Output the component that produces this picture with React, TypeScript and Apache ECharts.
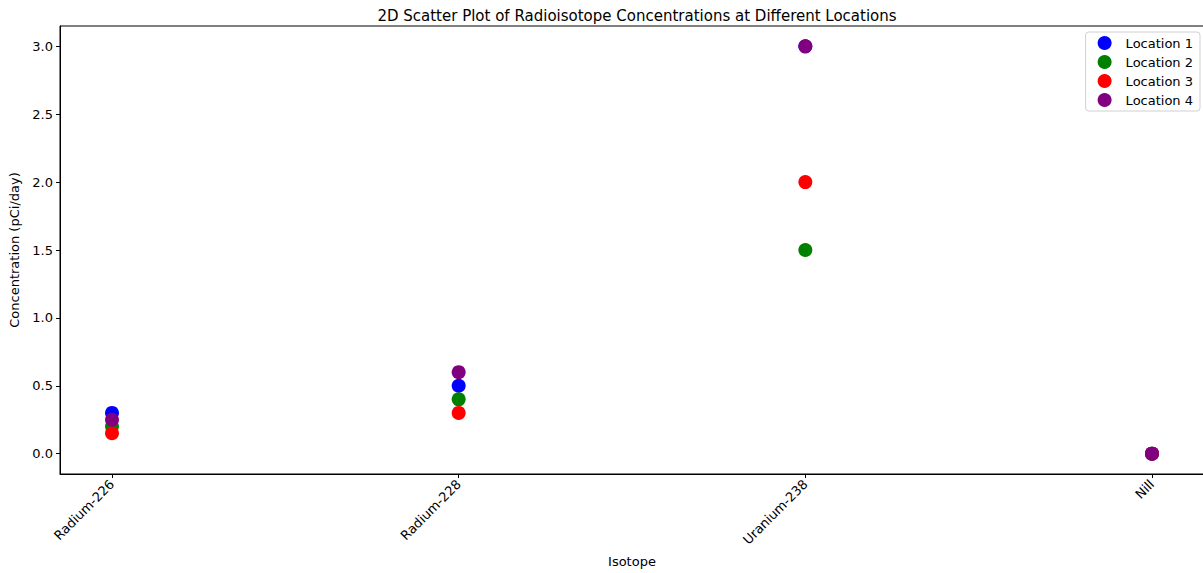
import React, { useEffect, useRef } from "react";
import * as echarts from "echarts";

const isotopes = ["Radium-226", "Radium-228", "Uranium-238", "Nill"];
const locations = ["Location 1", "Location 2", "Location 3", "Location 4"];
const location1 = [0.3, 0.5, 3.0, 0];
const location2 = [0.2, 0.4, 1.5, 0];
const location3 = [0.15, 0.3, 2.0, 0];
const location4 = [0.25, 0.6, 3.0, 0];
const colors = ["#0000ff", "#008000", "#ff0000", "#800080"];
const yTicks = [0, 0.5, 1.0, 1.5, 2.0, 2.5, 3.0];

const FONT = "DejaVu Sans";

export default function App() {
  const ref = useRef<HTMLDivElement>(null);

  useEffect(() => {
    if (!ref.current) return;
    const chart = echarts.init(ref.current, null, { renderer: "svg" });
    const values = [location1, location2, location3, location4];
    const xIdx = isotopes.map((_, i) => i);

    chart.setOption({
      animation: false,
      textStyle: { fontFamily: FONT },
      title: {
        text: "2D Scatter Plot of Radioisotope Concentrations at Different Locations",
        left: 632,
        textAlign: "center",
        top: 3,
        textStyle: { fontFamily: FONT, fontSize: 15, fontWeight: "normal", color: "#000" },
      },
      legend: {
        orient: "vertical",
        right: 3,
        top: 32,
        data: locations,
        icon: "circle",
        itemWidth: 14,
        itemHeight: 14,
        itemGap: 5,
        padding: [4, 7, 4, 12],
        borderColor: "#d0d0d0",
        borderWidth: 1,
        borderRadius: 3,
        backgroundColor: "rgba(255,255,255,0.8)",
        textStyle: { fontFamily: FONT, fontSize: 13, color: "#000", padding: [0, 0, 0, 9] },
      },
      grid: {
        left: 60,
        top: 26,
        width: 1144,
        height: 448,
        outerBoundsMode: "none",
        containLabel: false,
        show: true,
        borderColor: "#000",
        borderWidth: 1,
        backgroundColor: "transparent",
      },
      xAxis: {
        type: "value",
        min: -0.15,
        max: 3.15,
        name: "Isotope",
        nameLocation: "middle",
        nameGap: 81,
        nameTextStyle: { fontFamily: FONT, fontSize: 13, color: "#000" },
        splitLine: { show: false },
        axisLine: { show: true, onZero: false, lineStyle: { color: "#000" } },
        axisTick: { show: true, length: 4, customValues: xIdx, lineStyle: { color: "#000" } },
        axisLabel: {
          customValues: xIdx,
          rotate: 45,
          margin: 8,
          fontFamily: FONT,
          fontSize: 13,
          color: "#000",
          formatter: (v: number) => isotopes[Math.round(v)] ?? "",
        },
      },
      yAxis: {
        type: "value",
        min: -0.15,
        max: 3.15,
        name: "Concentration (pCi/day)",
        nameLocation: "middle",
        nameGap: 38,
        nameTextStyle: { fontFamily: FONT, fontSize: 13, color: "#000" },
        splitLine: { show: false },
        axisLine: { show: true, onZero: false, lineStyle: { color: "#000" } },
        axisTick: { show: true, length: 4, customValues: yTicks, lineStyle: { color: "#000" } },
        axisLabel: {
          customValues: yTicks,
          margin: 7,
          fontFamily: FONT,
          fontSize: 13,
          color: "#000",
          formatter: (v: number) => v.toFixed(1),
        },
      },
      series: locations.map((name, s) => ({
        name,
        type: "scatter",
        symbol: "circle",
        symbolSize: 14,
        itemStyle: { color: colors[s], opacity: 1 },
        emphasis: { disabled: true },
        z: 2 + s,
        data: values[s].map((v, i) => [i, v]),
      })),
    });

    return () => chart.dispose();
  }, []);

  return (
    <div
      ref={ref}
      style={{ position: "fixed", left: 0, top: 0, width: 1203, height: 573, background: "#fff" }}
    />
  );
}
